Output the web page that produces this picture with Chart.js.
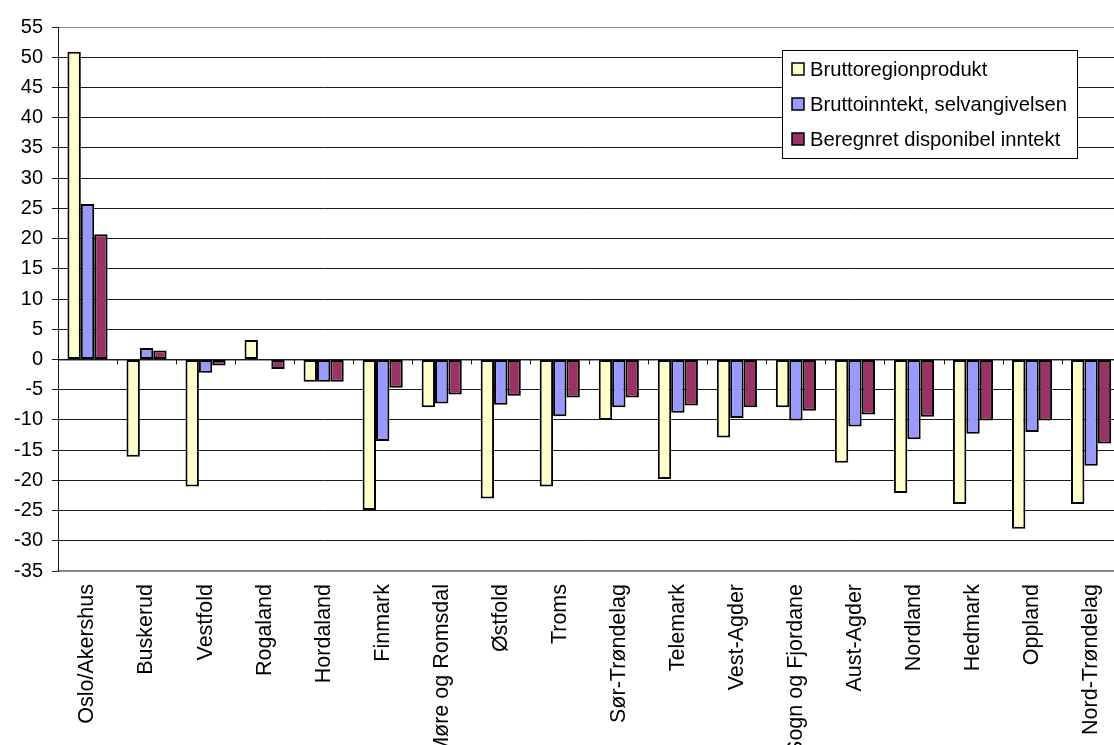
<!DOCTYPE html>
<html>
<head>
<meta charset="utf-8">
<script src="https://cdn.jsdelivr.net/npm/chart.js@4.4.1/dist/chart.umd.min.js"></script>
<style>
  html, body { margin: 0; padding: 0; background: #fff; overflow: hidden; }
  #wrap { width: 1130px; height: 745px; position: relative; }
</style>
</head>
<body>
<div id="wrap"><canvas id="barchart"></canvas></div>
<script>
// Data
const categories = ['Oslo/Akershus', 'Buskerud', 'Vestfold', 'Rogaland', 'Hordaland', 'Finmark',
  'Møre og Romsdal', 'Østfold', 'Troms', 'Sør-Trøndelag', 'Telemark', 'Vest-Agder',
  'Sogn og Fjordane', 'Aust-Agder', 'Nordland', 'Hedmark', 'Oppland', 'Nord-Trøndelag'];
const bruttoregionprodukt = [50.9, -16.1, -21.0, 3.2, -3.7, -24.9, -7.9, -23.0, -21.0, -10.0,
  -19.8, -12.9, -7.9, -17.1, -22.1, -23.9, -28.0, -23.9];
const bruttoinntekt = [25.7, 1.9, -2.2, 0, -3.7, -13.5, -7.3, -7.5, -9.4, -7.9,
  -8.8, -9.7, -10.1, -11.1, -13.2, -12.3, -12.0, -17.6];
const disponibelInntekt = [20.7, 1.5, -1.0, -1.6, -3.7, -4.7, -5.8, -6.0, -6.3, -6.3,
  -7.6, -7.9, -8.5, -9.1, -9.5, -10.1, -10.1, -13.9];
const seriesNames = ['Bruttoregionprodukt', 'Bruttoinntekt, selvangivelsen', 'Beregnret disponibel inntekt'];
const seriesColors = ['#FFFFCC', '#9999FF', '#993366'];
const yMin = -35, yMax = 55, yStep = 5;

const FONT = "'Liberation Sans', Arial, sans-serif";

// small tick marks on the zero line between categories
const zeroTicks = {
  id: 'zeroTicks',
  beforeDatasetsDraw(chart) {
    const {ctx, chartArea} = chart;
    const x = chart.scales.x, y = chart.scales.y;
    const y0 = y.getPixelForValue(0);
    const step = (chartArea.right - chartArea.left) / categories.length;
    ctx.save();
    ctx.strokeStyle = '#1a1a1a';
    ctx.lineWidth = 1;
    ctx.beginPath();
    ctx.moveTo(chartArea.left, y0 + 0.5);
    ctx.lineTo(chartArea.right, y0 + 0.5);
    for (let i = 1; i < categories.length; i++) {
      const px = Math.round(x.getPixelForValue(i) - step / 2) + 0.5;
      ctx.moveTo(px, y0);
      ctx.lineTo(px, y0 + 5);
    }
    ctx.stroke();
    ctx.restore();
  }
};

// boxed legend inside the plot, upper right
const boxLegend = {
  id: 'boxLegend',
  afterDraw(chart) {
    const ctx = chart.ctx;
    const bx = 782, by = 50, bw = 295, bh = 108;
    ctx.save();
    ctx.fillStyle = '#fff';
    ctx.fillRect(bx, by, bw, bh);
    ctx.strokeStyle = '#000';
    ctx.lineWidth = 1;
    ctx.strokeRect(bx + 0.5, by + 0.5, bw, bh);
    ctx.font = '20.2px ' + FONT;
    ctx.textBaseline = 'middle';
    chart.data.datasets.forEach((ds, i) => {
      const cy = by + 19 + i * 35;
      ctx.fillStyle = ds.backgroundColor;
      ctx.fillRect(792, cy - 6, 12, 12);
      ctx.strokeStyle = '#000';
      ctx.lineWidth = 1.5;
      ctx.strokeRect(792, cy - 6, 12, 12);
      ctx.fillStyle = '#000';
      ctx.fillText(ds.label, 810, cy + 1);
    });
    ctx.restore();
  }
};

const datasets = [bruttoregionprodukt, bruttoinntekt, disponibelInntekt].map((vals, i) => ({
  label: seriesNames[i],
  data: vals,
  backgroundColor: seriesColors[i],
  borderColor: '#000',
  borderWidth: 2,
  borderSkipped: false,
  categoryPercentage: 0.68,
  barPercentage: 1.0
}));

new Chart('barchart', {
  type: 'bar',
  data: { labels: categories, datasets: datasets },
  plugins: [zeroTicks, boxLegend],
  options: {
    responsive: true,
    maintainAspectRatio: false,
    animation: false,
    devicePixelRatio: 1,
    layout: { padding: { top: 27, right: 4, left: 0, bottom: 0 } },
    plugins: { legend: { display: false }, tooltip: { enabled: false } },
    scales: {
      x: {
        grid: { display: false, drawTicks: false },
        border: { display: true, color: '#888', width: 2 },
        ticks: {
          color: '#000', font: { family: FONT, size: 21.5 },
          autoSkip: false, minRotation: 90, maxRotation: 90, padding: 13
        },
        afterFit(scale) { scale.height = 174; }
      },
      y: {
        min: yMin, max: yMax,
        grid: {
          color: (c) => (c.tick && (c.tick.value === yMax || c.tick.value === yMin)) ? '#8a8a8a' : '#1a1a1a',
          lineWidth: 1,
          tickLength: 6,
          tickColor: '#1a1a1a'
        },
        border: { display: true, color: '#1a1a1a', width: 1 },
        ticks: {
          stepSize: yStep, color: '#000', font: { family: FONT, size: 20 }, padding: 9
        },
        afterFit(scale) { scale.width = 58; }
      }
    }
  }
});
</script>
</body>
</html>
